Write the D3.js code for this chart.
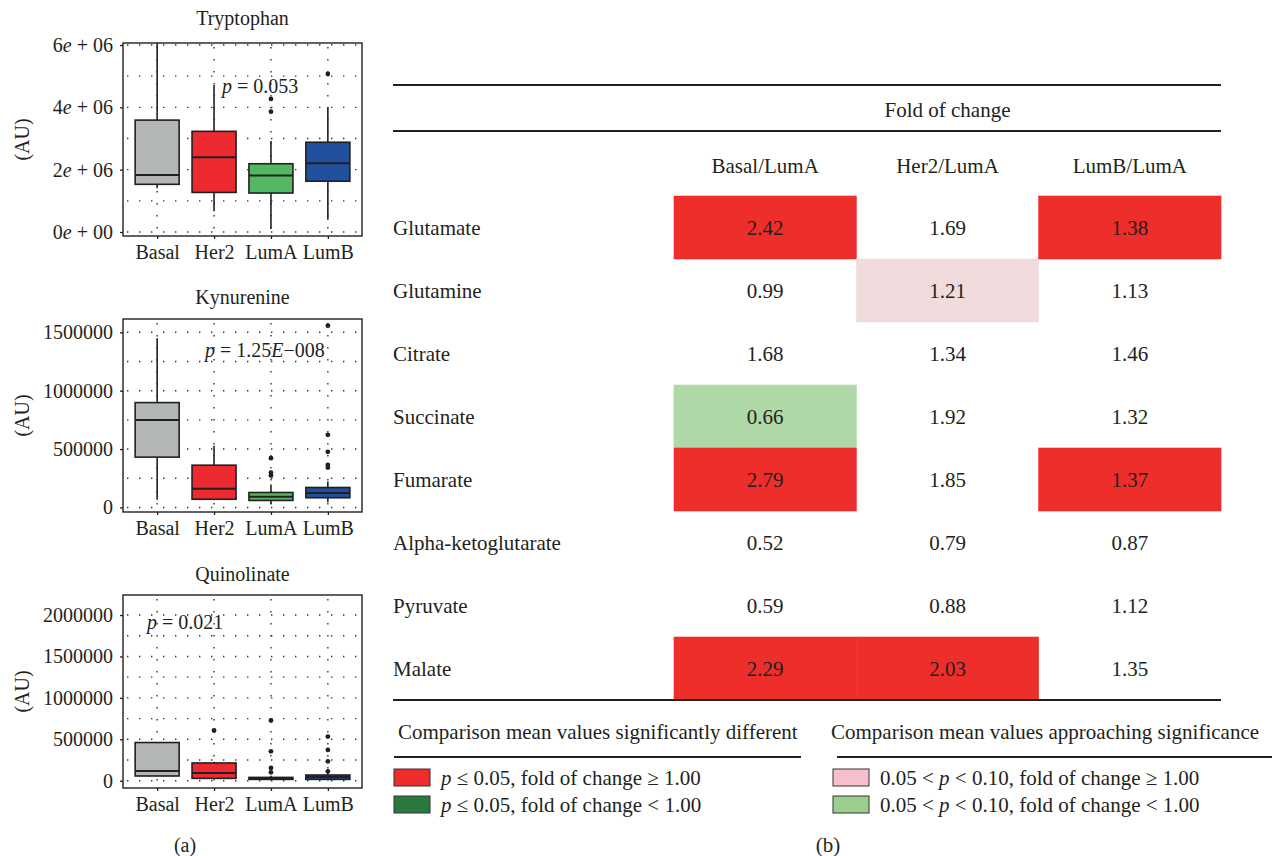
<!DOCTYPE html>
<html>
<head>
<meta charset="utf-8">
<script src="https://cdn.jsdelivr.net/npm/d3@7/dist/d3.min.js"></script>
<style>
body { margin: 0; background: #fff; }
svg text { font-family: "Liberation Serif", "Times New Roman", serif; fill: #231f20; }
</style>
</head>
<body>
<svg id="chart" width="1272" height="856"></svg>
<script>
// ---- panel (a): box plots ----
var groups = ["Basal", "Her2", "LumA", "LumB"];
var groupColors = ["#b3b6b7", "#ec2a2f", "#52b862", "#21509f"];

// [lower whisker, q1, median, q3, upper whisker]
var tryptophanStats = [
	[1.40e6, 1.53e6, 1.83e6, 3.59e6, 6.30e6],
	[0.67e6, 1.27e6, 2.40e6, 3.23e6, 4.72e6],
	[0.10e6, 1.25e6, 1.81e6, 2.19e6, 2.92e6],
	[0.39e6, 1.63e6, 2.21e6, 2.88e6, 4.00e6]
];
var tryptophanOutliers = [[], [], [3.86e6, 4.27e6], [5.07e6]];

var kynurenineStats = [
	[66e3, 431e3, 750e3, 898e3, 1449e3],
	[65e3, 70e3, 160e3, 362e3, 528e3],
	[30e3, 60e3, 92e3, 128e3, 197e3],
	[45e3, 83e3, 123e3, 171e3, 222e3]
];
var kynurenineOutliers = [[], [], [274e3, 299e3, 422e3], [342e3, 365e3, 476e3, 622e3, 1557e3]];

var quinolinateStats = [
	[57e3, 57e3, 118e3, 461e3, 461e3],
	[28e3, 28e3, 93e3, 214e3, 230e3],
	[16e3, 16e3, 28e3, 40e3, 60e3],
	[16e3, 16e3, 44e3, 69e3, 100e3]
];
var quinolinateOutliers = [[], [606e3], [101e3, 154e3, 355e3, 727e3], [113e3, 234e3, 372e3, 533e3]];

var panelTitles = ["Tryptophan", "Kynurenine", "Quinolinate"];
var panelDomains = [[-0.128e6, 6.064e6], [-0.039e6, 1.614e6], [-0.088e6, 2.242e6]];
var tryptophanTicks = [0, 2e6, 4e6, 6e6];
var tryptophanTickLabels = ["0e + 00", "2e + 06", "4e + 06", "6e + 06"];
var kynurenineTicks = [0, 5e5, 1e6, 1.5e6];
var kynurenineTickLabels = ["0", "500000", "1000000", "1500000"];
var quinolinateTicks = [0, 5e5, 1e6, 1.5e6, 2e6];
var quinolinateTickLabels = ["0", "500000", "1000000", "1500000", "2000000"];
var gridSteps = [1e6, 2.5e5, 2.5e5];

// p-value annotations: [text, italic] pieces
var pLabels = [
	[["p", true], [" = 0.053", false]],
	[["p", true], [" = 1.25", false], ["E", true], ["\u2212008", false]],
	[["p", true], [" = 0.021", false]]
];
var pLabelValues = [4.68e6, 1.349e6, 1.92e6];

// ---- panel (b): fold of change table ----
var metabolites = ["Glutamate", "Glutamine", "Citrate", "Succinate", "Fumarate",
	"Alpha-ketoglutarate", "Pyruvate", "Malate"];
var comparisons = ["Basal/LumA", "Her2/LumA", "LumB/LumA"];
var basalFold = [2.42, 0.99, 1.68, 0.66, 2.79, 0.52, 0.59, 2.29];
var her2Fold = [1.69, 1.21, 1.34, 1.92, 1.85, 0.79, 0.88, 2.03];
var lumbFold = [1.38, 1.13, 1.46, 1.32, 1.37, 0.87, 1.12, 1.35];
// "s" = p <= 0.05, "a" = 0.05 < p < 0.10, "" = not significant
var basalSig = ["s", "", "", "a", "s", "", "", "s"];
var her2Sig = ["", "a", "", "", "", "", "", "s"];
var lumbSig = ["s", "", "", "", "s", "", "", ""];

var legendLeftTitle = "Comparison mean values significantly different";
var legendRightTitle = "Comparison mean values approaching significance";
var legendLeftItems = [
	{ color: "#ee2e2b", parts: [["p", true], [" \u2264 0.05, fold of change \u2265 1.00", false]] },
	{ color: "#2a7a3f", parts: [["p", true], [" \u2264 0.05, fold of change < 1.00", false]] }
];
var legendRightItems = [
	{ color: "#f7bfcc", parts: [["0.05 < ", false], ["p", true], [" < 0.10, fold of change \u2265 1.00", false]] },
	{ color: "#9ccf8d", parts: [["0.05 < ", false], ["p", true], [" < 0.10, fold of change < 1.00", false]] }
];

var svg = d3.select("#chart");
var ink = "#231f20";

function addParts(text, parts) {
	parts.forEach(function(p) {
		text.append("tspan").attr("font-style", p[1] ? "italic" : null).text(p[0]);
	});
}

var panels = [
	{ stats: tryptophanStats, outliers: tryptophanOutliers, ticks: tryptophanTicks, labels: tryptophanTickLabels },
	{ stats: kynurenineStats, outliers: kynurenineOutliers, ticks: kynurenineTicks, labels: kynurenineTickLabels },
	{ stats: quinolinateStats, outliers: quinolinateOutliers, ticks: quinolinateTicks, labels: quinolinateTickLabels }
];

var plotLeft = 123, plotWidth = 239, plotHeight = 193;
var plotTops = [43, 319, 595];
var titleGaps = [25, 22, 21];
var boxWidth = 44;
var pLabelX = [222, 205, 147];

var x = d3.scalePoint().domain(groups).range([plotLeft, plotLeft + plotWidth]).padding(0.6);

panels.forEach(function(p, k) {
	var top = plotTops[k];
	var y = d3.scaleLinear().domain(panelDomains[k]).range([top + plotHeight, top]);
	var g = svg.append("g");

	g.append("clipPath").attr("id", "clip" + k)
		.append("rect").attr("x", plotLeft).attr("y", top).attr("width", plotWidth).attr("height", plotHeight);

	// dotted grid
	var grid = d3.range(0, panelDomains[k][1], gridSteps[k]);
	g.selectAll(".hgrid").data(grid).enter().append("line")
		.attr("x1", plotLeft + 4).attr("x2", plotLeft + plotWidth)
		.attr("y1", function(d) { return y(d); }).attr("y2", function(d) { return y(d); })
		.attr("stroke", "#333").attr("stroke-width", 1.4).attr("stroke-dasharray", "1.4,10.6");
	g.selectAll(".vgrid").data(groups).enter().append("line")
		.attr("x1", function(d) { return x(d); }).attr("x2", function(d) { return x(d); })
		.attr("y1", top + 4).attr("y2", top + plotHeight)
		.attr("stroke", "#333").attr("stroke-width", 1.4).attr("stroke-dasharray", "1.4,10.6");

	var boxes = g.append("g").attr("clip-path", "url(#clip" + k + ")")
		.selectAll("g").data(p.stats).enter().append("g");
	boxes.append("line")
		.attr("x1", function(d, i) { return x(groups[i]); })
		.attr("x2", function(d, i) { return x(groups[i]); })
		.attr("y1", function(d) { return y(d[0]); })
		.attr("y2", function(d) { return y(d[4]); })
		.attr("stroke", ink).attr("stroke-width", 1.6);
	boxes.append("rect")
		.attr("x", function(d, i) { return x(groups[i]) - boxWidth / 2; })
		.attr("y", function(d) { return y(d[3]); })
		.attr("width", boxWidth)
		.attr("height", function(d) { return Math.max(1, y(d[1]) - y(d[3])); })
		.attr("fill", function(d, i) { return groupColors[i]; })
		.attr("stroke", ink).attr("stroke-width", 1.6);
	boxes.append("line")
		.attr("x1", function(d, i) { return x(groups[i]) - boxWidth / 2; })
		.attr("x2", function(d, i) { return x(groups[i]) + boxWidth / 2; })
		.attr("y1", function(d) { return y(d[2]); })
		.attr("y2", function(d) { return y(d[2]); })
		.attr("stroke", ink).attr("stroke-width", 2);
	boxes.selectAll("circle")
		.data(function(d, i) { return p.outliers[i].map(function(v) { return { g: groups[i], v: v }; }); })
		.enter().append("circle")
		.attr("cx", function(d) { return x(d.g); })
		.attr("cy", function(d) { return y(d.v); })
		.attr("r", 2.4).attr("fill", ink);

	g.append("rect").attr("x", plotLeft).attr("y", top).attr("width", plotWidth).attr("height", plotHeight)
		.attr("fill", "none").attr("stroke", ink).attr("stroke-width", 1.4);

	// y axis
	var yAxis = g.append("g").attr("transform", "translate(" + plotLeft + ",0)")
		.call(d3.axisLeft(y).tickValues(p.ticks).tickSize(3).tickPadding(7)
			.tickFormat(function(d, i) { return p.labels[i]; }));
	yAxis.select(".domain").remove();
	yAxis.selectAll("line").attr("stroke", ink).attr("stroke-width", 1.3);
	yAxis.selectAll("text").attr("font-size", 20).attr("font-family", null).attr("fill", ink)
		.each(function(d, i) {
			var lab = p.labels[i];
			if (lab.indexOf("e") < 0) return;
			var t = d3.select(this).text(null);
			var bits = lab.split("e");
			addParts(t, [[bits[0], false], ["e", true], [bits[1], false]]);
		});

	// x axis
	var xAxis = g.append("g").attr("transform", "translate(0," + (top + plotHeight) + ")")
		.call(d3.axisBottom(x).tickSize(3).tickPadding(6));
	xAxis.select(".domain").remove();
	xAxis.selectAll("line").attr("stroke", ink).attr("stroke-width", 1.3);
	xAxis.selectAll("text").attr("font-size", 20).attr("font-family", null).attr("fill", ink);

	g.append("text").attr("x", plotLeft + plotWidth / 2).attr("y", top - titleGaps[k])
		.attr("text-anchor", "middle").attr("dominant-baseline", "central")
		.attr("font-size", 20).text(panelTitles[k]);

	g.append("text").attr("transform", "translate(22," + (top + plotHeight / 2) + ") rotate(-90)")
		.attr("text-anchor", "middle").attr("dominant-baseline", "central")
		.attr("font-size", 20).text("(AU)");

	var pt = g.append("text").attr("x", pLabelX[k]).attr("y", y(pLabelValues[k]))
		.attr("dominant-baseline", "central").attr("font-size", 20);
	addParts(pt, pLabels[k]);
});

svg.append("text").attr("x", 185).attr("y", 845).attr("text-anchor", "middle")
	.attr("dominant-baseline", "central").attr("font-size", 20).text("(a)");

// ---- table ----
var tableLeft = 393, tableRight = 1221;
var rowScale = d3.scaleBand().domain(metabolites).range([196, 700]);
var colScale = d3.scaleBand().domain(comparisons).range([674, tableRight]);
var folds = [basalFold, her2Fold, lumbFold];
var sigs = [basalSig, her2Sig, lumbSig];
var cellFill = { s: ["#2a7a3f", "#ee2e2b"], a: ["#afd8a7", "#f0dcdc"] };

var cells = [];
comparisons.forEach(function(c, j) {
	metabolites.forEach(function(m, i) {
		cells.push({ col: c, row: m, value: folds[j][i], sig: sigs[j][i] });
	});
});

var table = svg.append("g");
table.selectAll("rect.cell").data(cells.filter(function(d) { return d.sig; }))
	.enter().append("rect").attr("class", "cell")
	.attr("x", function(d) { return colScale(d.col); })
	.attr("y", function(d) { return rowScale(d.row); })
	.attr("width", colScale.bandwidth())
	.attr("height", rowScale.bandwidth())
	.attr("fill", function(d) { return cellFill[d.sig][d.value >= 1 ? 1 : 0]; })
	.attr("stroke", function(d) { return cellFill[d.sig][d.value >= 1 ? 1 : 0]; })
	.attr("stroke-width", 0.6);

table.selectAll("text.val").data(cells).enter().append("text").attr("class", "val")
	.attr("x", function(d) { return colScale(d.col) + colScale.bandwidth() / 2; })
	.attr("y", function(d) { return rowScale(d.row) + rowScale.bandwidth() / 2; })
	.attr("text-anchor", "middle").attr("dominant-baseline", "central")
	.attr("font-size", 21).text(function(d) { return d3.format(".2f")(d.value); });

table.selectAll("text.row").data(metabolites).enter().append("text").attr("class", "row")
	.attr("x", tableLeft)
	.attr("y", function(d) { return rowScale(d) + rowScale.bandwidth() / 2; })
	.attr("dominant-baseline", "central").attr("font-size", 21).text(function(d) { return d; });

table.selectAll("text.col").data(comparisons).enter().append("text").attr("class", "col")
	.attr("x", function(d) { return colScale(d) + colScale.bandwidth() / 2; })
	.attr("y", 166)
	.attr("text-anchor", "middle").attr("dominant-baseline", "central")
	.attr("font-size", 21).text(function(d) { return d; });

table.append("text").attr("x", (674 + tableRight) / 2).attr("y", 110)
	.attr("text-anchor", "middle").attr("dominant-baseline", "central")
	.attr("font-size", 21).text("Fold of change");

[85, 131, 700].forEach(function(yy) {
	table.append("line").attr("x1", tableLeft).attr("x2", tableRight).attr("y1", yy).attr("y2", yy)
		.attr("stroke", ink).attr("stroke-width", 2);
});

// ---- legend ----
function drawLegend(x0, titleX, lineStart, lineEnd, title, items) {
	var lg = svg.append("g");
	lg.append("text").attr("x", titleX).attr("y", 732).attr("dominant-baseline", "central")
		.attr("font-size", 21).text(title);
	lg.append("line").attr("x1", lineStart).attr("x2", lineEnd).attr("y1", 757).attr("y2", 757)
		.attr("stroke", ink).attr("stroke-width", 2);
	var it = lg.selectAll("g").data(items).enter().append("g")
		.attr("transform", function(d, i) { return "translate(" + x0 + "," + (769 + i * 27) + ")"; });
	it.append("rect").attr("width", 36).attr("height", 17)
		.attr("fill", function(d) { return d.color; }).attr("stroke", "#333").attr("stroke-width", 1);
	it.append("text").attr("x", 47).attr("y", 9).attr("dominant-baseline", "central")
		.attr("font-size", 21).each(function(d) { addParts(d3.select(this), d.parts); });
}
drawLegend(394, 398, 394, 801, legendLeftTitle, legendLeftItems);
drawLegend(833, 831, 837, 1272, legendRightTitle, legendRightItems);

svg.append("text").attr("x", 828).attr("y", 845).attr("text-anchor", "middle")
	.attr("dominant-baseline", "central").attr("font-size", 21).text("(b)");
</script>
</body>
</html>
